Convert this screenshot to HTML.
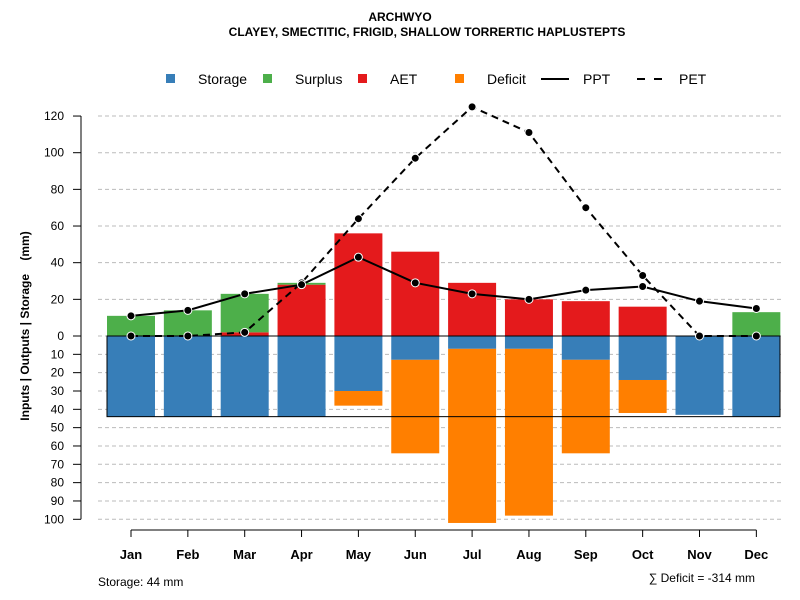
<!DOCTYPE html>
<html><head><meta charset="utf-8"><style>
body{margin:0;background:#fff;}
svg{display:block;font-family:"Liberation Sans",sans-serif;}
</style></head><body>
<svg id="c" width="800" height="600"></svg>
<script>
const months=["Jan","Feb","Mar","Apr","May","Jun","Jul","Aug","Sep","Oct","Nov","Dec"];
const storage=[44,44,44,44,30,13,7,7,13,24,43,44];
const deficit=[0,0,0,0,8,51,95,91,51,18,0,0];
const aet=[0,0,2,28,56,46,29,20,19,16,0,0];
const surplus=[11,14,21,1,0,0,0,0,0,0,0,13];
const ppt=[11,14,23,28,43,29,23,20,25,27,19,15];
const pet=[0,0,2,29,64,97,125,111,70,33,0,0];
const upTicks=[0,20,40,60,80,100,120];
const downTicks=[10,20,30,40,50,60,70,80,90,100];
const storageCap=44;
const NS="http://www.w3.org/2000/svg";
const svg=document.getElementById('c');
const Y0=336,K=1.833;
const yUp=v=>Y0-v*K, yDn=v=>Y0+v*K;
const xC=i=>131+i*56.85;
const BW=48;
function mk(t,a,p){const e=document.createElementNS(NS,t);for(const k in a)e.setAttribute(k,a[k]);(p||svg).appendChild(e);return e;}
function tx(x,y,s,a){const e=mk('text',Object.assign({x:x,y:y},a||{}));e.textContent=s;return e;}
let e=tx(400,21,"ARCHWYO",{"text-anchor":"middle","font-size":12,"font-weight":"bold"});

e=tx(427,36,"CLAYEY, SMECTITIC, FRIGID, SHALLOW TORRERTIC HAPLUSTEPTS",{"text-anchor":"middle","font-size":12,"font-weight":"bold"});

upTicks.forEach(v=>{const g=mk('line',{x1:98,x2:782,y1:yUp(v),y2:yUp(v),stroke:"#bbb","stroke-dasharray":"4,3"});});
downTicks.forEach(v=>{const g=mk('line',{x1:98,x2:782,y1:yDn(v),y2:yDn(v),stroke:"#bbb","stroke-dasharray":"4,3"});});
months.forEach((m,i)=>{
 const x=xC(i)-BW/2;
 let r=mk('rect',{x:x,y:Y0,width:BW,height:storage[i]*K,fill:"#377eb8"});
 
 if(deficit[i]>0){r=mk('rect',{x:x,y:yDn(storage[i]),width:BW,height:deficit[i]*K,fill:"#ff7f00"});
 }
 if(aet[i]>0){r=mk('rect',{x:x,y:yUp(aet[i]),width:BW,height:aet[i]*K,fill:"#e41a1c"});
 }
 if(surplus[i]>0){r=mk('rect',{x:x,y:yUp(aet[i]+surplus[i]),width:BW,height:surplus[i]*K,fill:"#4daf4a"});
 }
});
e=mk('rect',{x:107,y:Y0,width:673,height:storageCap*K,fill:"none",stroke:"#000","stroke-width":1});

function line(d,dash,name){
 const p=mk('polyline',{points:d.map((v,i)=>xC(i)+","+yUp(v)).join(" "),fill:"none",stroke:"#000","stroke-width":2,"stroke-dasharray":dash});
 
 d.forEach((v,i)=>{const c=mk('circle',{cx:xC(i),cy:yUp(v),r:4,fill:"#000",stroke:"#fff","stroke-width":1});
 });
}
line(pet,"7,5","pet");
line(ppt,"none","ppt");
e=mk('line',{x1:81,x2:81,y1:yUp(120),y2:yDn(100),stroke:"#000"});

upTicks.forEach(v=>{mk('line',{x1:73,x2:81,y1:yUp(v),y2:yUp(v),stroke:"#000"});
 const t=tx(64,yUp(v)+4,String(v),{"text-anchor":"end","font-size":12});});
downTicks.forEach(v=>{mk('line',{x1:73,x2:81,y1:yDn(v),y2:yDn(v),stroke:"#000"});
 const t=tx(64,yDn(v)+4,String(v),{"text-anchor":"end","font-size":12});});
e=tx(0,0,"Inputs | Outputs | Storage    (mm)",{"text-anchor":"middle","font-size":12,"font-weight":"bold","transform":"translate(29,326) rotate(-90)","style":"white-space:pre"});

e=mk('line',{x1:xC(0),x2:xC(11),y1:530,y2:530,stroke:"#000"});

months.forEach((m,i)=>{mk('line',{x1:xC(i),x2:xC(i),y1:530,y2:537,stroke:"#000"});
 const t=tx(xC(i),559,m,{"text-anchor":"middle","font-size":13,"font-weight":"bold"});});
e=tx(98,586,"Storage: 44 mm",{"font-size":12});
e=tx(755,582,"∑ Deficit = -314 mm",{"text-anchor":"end","font-size":12});
const leg=[["Storage","#377eb8",166,198],["Surplus","#4daf4a",263,295],["AET","#e41a1c",358,390],["Deficit","#ff7f00",455,487]];
leg.forEach(l=>{const g=mk('g',{});
 mk('rect',{x:l[2],y:74,width:9,height:9,fill:l[1]},g);tx(l[3],84,l[0],{"font-size":14});});
let g=mk('g',{});
mk('line',{x1:541,x2:569,y1:79,y2:79,stroke:"#000","stroke-width":2},g);tx(583,84,"PPT",{"font-size":14});
g=mk('g',{});
mk('line',{x1:637,x2:662,y1:79,y2:79,stroke:"#000","stroke-width":2,"stroke-dasharray":"8,9"},g);tx(679,84,"PET",{"font-size":14});
</script>
</body></html>
